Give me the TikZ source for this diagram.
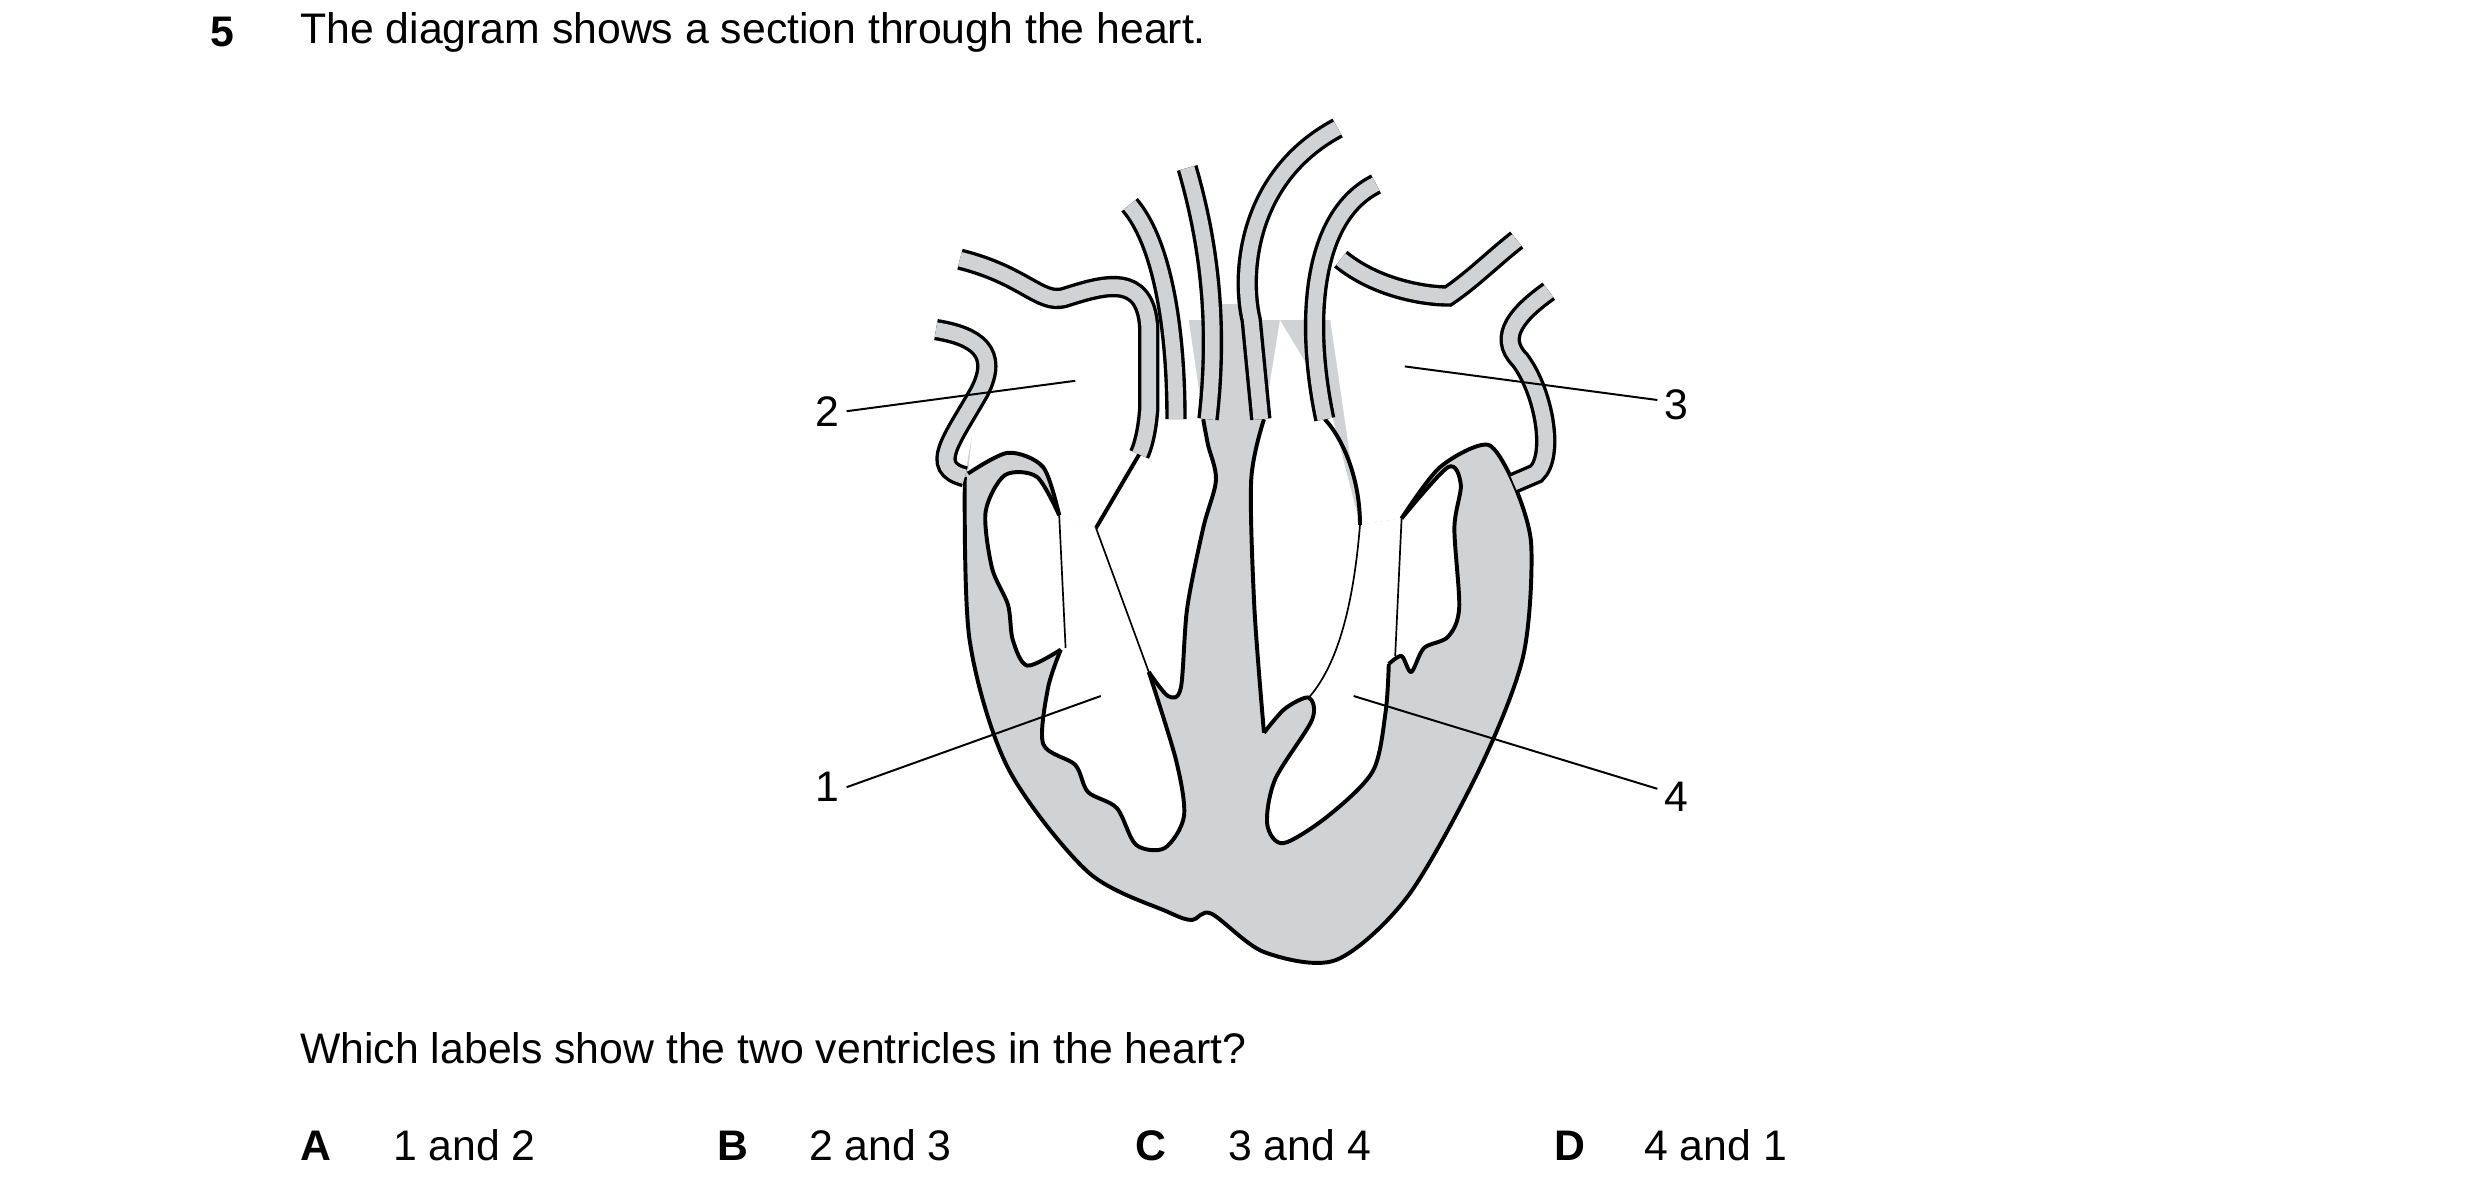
\documentclass[tikz,border=0pt]{standalone}
\usepackage{fontspec}
\setmainfont{Liberation Sans}
\usetikzlibrary{positioning}
\definecolor{heartgray}{RGB}{209,210,212}
\newcommand{\qfont}{\fontsize{7.6}{9}\selectfont}

\begin{document}
\begin{tikzpicture}[x=0.01cm,y=-0.01cm,
  wall/.style={line width=0.7pt, line join=round},
  chord/.style={line width=0.3pt},
  vessel/.style={double=heartgray, double distance=2.6pt, line width=0.6pt},
  pointer/.style={line width=0.35pt},
  txt/.style={font=\qfont, inner sep=0pt}]
\useasboundingbox (0,0) rectangle (1550,742);

% heart body
\fill[heartgray] plot[smooth] coordinates {(603,298) (606,400) (630,480) (680,545) (730,570) (745,575) (757,571) (790,595) (835,600) (880,560) (925,480) (952,410) (957,340) (946,302)} -- (900,200) -- (620,200) -- cycle;
\draw[wall] plot[smooth] coordinates {(603,298) (606,400) (630,480) (680,545) (730,570) (745,575) (757,571) (790,595) (835,600) (880,560) (925,480) (952,410) (957,340) (946,302)};
\fill[heartgray] (760,190) -- (778,190) -- (790,262) -- (752,262) -- cycle;

% left chambers
\fill[white] plot[smooth] coordinates {(662,322) (648,298) (628,297) (616,320) (620,355) (630,378) (633,400) (642,416) (663,406)}
  -- plot[smooth] coordinates {(663,406) (655,430) (652,465) (672,478) (680,495) (698,505) (710,528) (728,530) (740,510) (735,475) (718,420)}
  -- plot[smooth] coordinates {(718,420) (730,435) (738,430) (742,380) (752,330) (760,300) (755,278) (752,262)}
  -- (740,180) -- (700,190) -- (685,330) -- cycle;
\fill[white] plot[smooth] coordinates {(605,296) (630,283) (652,292) (662,322)} -- (685,330) -- (715,285) -- (735,200) -- (615,200) -- cycle;
\draw[wall] plot[smooth] coordinates {(662,322) (648,298) (628,297) (616,320) (620,355) (630,378) (633,400) (642,416) (663,406)};
\draw[wall] plot[smooth] coordinates {(663,406) (655,430) (652,465) (672,478) (680,495) (698,505) (710,528) (728,530) (740,510) (735,475) (718,420)};
\draw[wall] plot[smooth] coordinates {(718,420) (730,435) (738,430) (742,380) (752,330) (760,300) (755,278) (752,262)};
\draw[wall] plot[smooth] coordinates {(605,296) (630,283) (652,292) (662,322)};
\draw[wall] (712,284) -- (685,330);
\draw[chord] (662,322) -- (666,405);
\draw[chord] (685,330) -- (718,420);

% right chambers
\fill[white] plot[smooth] coordinates {(790,262) (782,300) (784,380) (790,458)}
  -- plot[smooth] coordinates {(790,458) (803,443) (818,436) (820,450) (797,487) (792,515) (802,527) (830,510) (858,482) (866,445) (868,415)}
  -- plot[smooth] coordinates {(868,415) (876,410) (882,420) (890,405) (905,398) (912,380) (909,330) (913,303) (905,292) (876,324)}
  -- (850,328) -- (830,250) -- (800,200) -- cycle;
\fill[white] plot[smooth] coordinates {(876,324) (900,292) (930,278) (946,302)} -- (962,295) -- (960,190) -- (830,190) -- (850,328) -- cycle;
\draw[wall] plot[smooth] coordinates {(790,262) (782,300) (784,380) (790,458)};
\draw[wall] plot[smooth] coordinates {(790,458) (803,443) (818,436) (820,450) (797,487) (792,515) (802,527) (830,510) (858,482) (866,445) (868,415)};
\draw[wall] plot[smooth] coordinates {(868,415) (876,410) (882,420) (890,405) (905,398) (912,380) (909,330) (913,303) (905,292) (876,324)};
\draw[wall] plot[smooth] coordinates {(876,324) (900,292) (930,278) (946,302)};
\draw[wall] (828,262) .. controls (840,275) and (850,300) .. (850,328);
\draw[chord] (850,328) .. controls (845,390) and (832,420) .. (818,436);
\draw[chord] (876,324) -- (872,410);

% vessels
\draw[vessel] (600,162) .. controls (640,172) and (650,190) .. (665,186) .. controls (690,178) and (716,170) .. (718,205) -- (718,255) .. controls (717,270) and (714,280) .. (712,284);
\draw[vessel] (706,128) .. controls (725,150) and (735,200) .. (735,262);
\draw[vessel] (742,105) .. controls (755,150) and (762,200) .. (755,262);
\draw[vessel] (836,80) .. controls (780,110) and (775,170) .. (782,200) -- (788,262);
\draw[vessel] (860,115) .. controls (820,135) and (815,200) .. (828,262);
\draw[vessel] (838,162) .. controls (860,180) and (890,185) .. (905,185) .. controls (920,175) and (935,160) .. (948,150);
\draw[vessel] (968,182) .. controls (950,195) and (935,210) .. (950,225) .. controls (965,245) and (972,285) .. (960,296) -- (946,302);
\draw[vessel] (585,206) .. controls (610,210) and (625,220) .. (612,245) .. controls (595,275) and (580,292) .. (603,298);

% labels and pointers
\node[txt] (l1) at (517,492) {1};
\node[txt] (l2) at (517,257) {2};
\node[txt] (l3) at (1048,253) {3};
\node[txt] (l4) at (1048,498) {4};
\coordinate (p1) at (688,435);
\coordinate (p2) at (672,238);
\coordinate (p3) at (878,229);
\coordinate (p4) at (846,435);
\draw[pointer] (l1.east) ++(4,0) -- (p1);
\draw[pointer] (l2.east) ++(4,0) -- (p2);
\draw[pointer] (l3.west) ++(-4,-3) -- (p3);
\draw[pointer] (l4.west) ++(-4,-5) -- (p4);

% question text
\node[txt, anchor=west] (num) at (131,20) {\bfseries 5};
\node[txt, anchor=west] (stem) at (187,20) {The diagram shows a section through the heart.};
\node[txt, anchor=west] (ask) at (187,655) {Which labels show the two ventricles in the heart?};
\node[txt, anchor=west] (ka) at (187,716) {\bfseries A};
\node[txt, anchor=west] (oa) at (245,716) {1 and 2};
\node[txt, anchor=west] (kb) at (448,716) {\bfseries B};
\node[txt, anchor=west] (ob) at (505,716) {2 and 3};
\node[txt, anchor=west] (kc) at (709,716) {\bfseries C};
\node[txt, anchor=west] (oc) at (767,716) {3 and 4};
\node[txt, anchor=west] (kd) at (971,716) {\bfseries D};
\node[txt, anchor=west] (od) at (1027,716) {4 and 1};
\end{tikzpicture}
\end{document}
